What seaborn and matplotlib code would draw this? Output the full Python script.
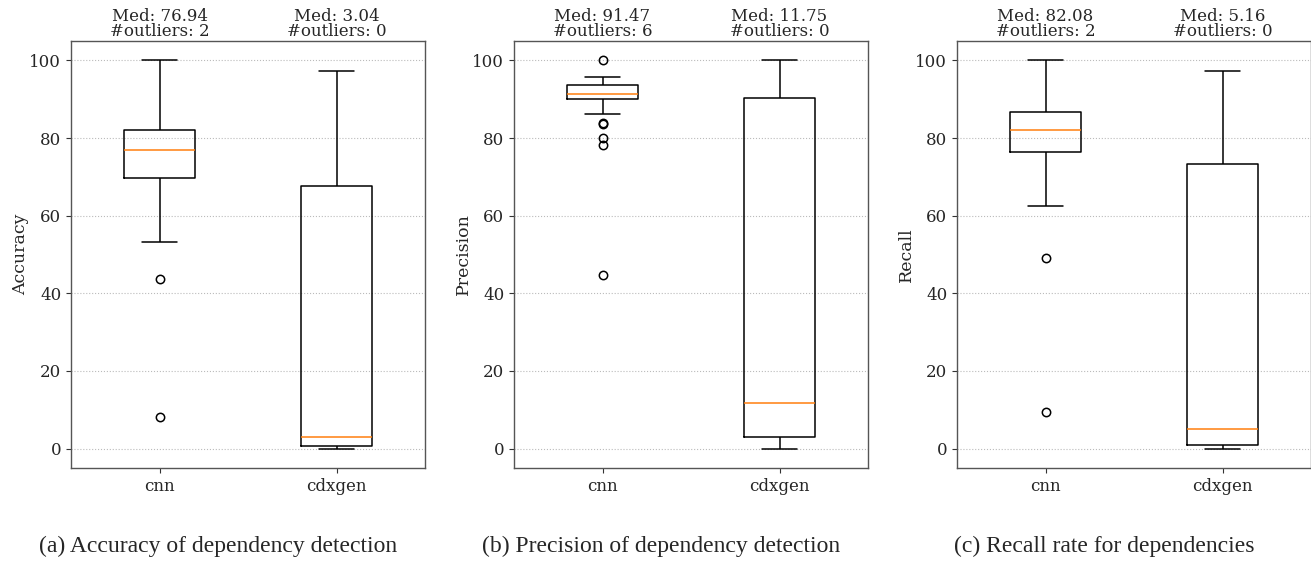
import matplotlib
matplotlib.use("Agg")
import matplotlib.pyplot as plt
import seaborn as sns
import pandas as pd
import numpy as np

tools = ["cnn", "cdxgen"]

# Raw samples reconstructed so that quartiles/whiskers/outliers match the figure
acc_cnn = [8.2, 43.8, 53.3, 69.8, 72.0, 74.5, 76.94, 78.5, 80.0, 82.1, 88.0, 94.0, 100.0]
acc_cdx = [0.0, 0.6, 3.04, 67.7, 97.4]
prec_cnn = [44.6, 78.2, 80.0, 83.5, 83.8, 86.2, 90.0, 90.4, 90.7, 91.0, 91.2, 91.35,
            91.47, 91.8, 92.2, 92.6, 93.0, 93.4, 93.7, 94.2, 94.6, 95.0, 95.3, 95.7, 100.0]
prec_cdx = [0.0, 3.1, 11.75, 90.2, 100.0]
rec_cnn = [9.3, 49.2, 62.6, 76.5, 78.0, 80.0, 82.08, 83.5, 85.0, 86.8, 90.0, 95.0, 100.0]
rec_cdx = [0.0, 0.9, 5.16, 73.2, 97.4]

panels = [
    ("Accuracy", acc_cnn, acc_cdx, "(a) Accuracy of dependency detection"),
    ("Precision", prec_cnn, prec_cdx, "(b) Precision of dependency detection"),
    ("Recall", rec_cnn, rec_cdx, "(c) Recall rate for dependencies"),
]

sns.set_theme(style="white")
plt.rcParams["font.family"] = ["DejaVu Serif"]

fig = plt.figure(figsize=(13.11, 5.62), dpi=100)
lefts = [71, 514, 957]
W, H = 1311, 562
ax_w = 354 / W
ax_b = 1 - 468 / H
ax_h = 427 / H
caption_x = [218, 661, 1104]

for i, (ylab, cnn_vals, cdx_vals, cap) in enumerate(panels):
    ax = fig.add_axes([lefts[i] / W, ax_b, ax_w, ax_h])
    df = pd.DataFrame({
        "tool": ["cnn"] * len(cnn_vals) + ["cdxgen"] * len(cdx_vals),
        "value": list(cnn_vals) + list(cdx_vals),
    })
    sns.boxplot(data=df, x="tool", y="value", order=tools, ax=ax, width=0.4,
                whis=1.5, fill=False, color="black", linewidth=1.1,
                medianprops={"color": "#ff7f0e", "linewidth": 1.1},
                flierprops={"marker": "o", "markersize": 6,
                            "markerfacecolor": "none",
                            "markeredgecolor": "black", "markeredgewidth": 1.1})
    ax.set_ylim(-5, 105)
    ax.set_xlim(-0.5, 1.5)
    ax.set_yticks([0, 20, 40, 60, 80, 100])
    ax.yaxis.grid(True, linestyle=":", color="#bbbbbb", linewidth=0.8)
    ax.xaxis.grid(False)
    ax.set_axisbelow(True)
    ax.set_xlabel("")
    ax.set_ylabel(ylab, fontsize=12.5, labelpad=0)
    ax.tick_params(axis="both", labelsize=12, length=3.5, width=0.8,
                   left=True, bottom=True, color="#333333")
    for s in ax.spines.values():
        s.set_color("#555555")
        s.set_linewidth(1.0)

    for j, vals in enumerate([cnn_vals, cdx_vals]):
        arr = np.asarray(vals)
        q1, med, q3 = np.percentile(arr, [25, 50, 75])
        iqr = q3 - q1
        n_out = int(np.sum((arr < q1 - 1.5 * iqr) | (arr > q3 + 1.5 * iqr)))
        ax.annotate(f"Med: {med:.2f}\n#outliers: {n_out}", xy=(j, 1.0),
                    xycoords=("data", "axes fraction"), xytext=(0, 1),
                    textcoords="offset points", ha="center", va="bottom",
                    fontsize=12, linespacing=0.85)

    fig.text(caption_x[i] / W, 1 - 546 / H, cap, ha="center", va="center",
             fontsize=17, family=["Liberation Serif"])

fig.savefig("out.png", dpi=100)
